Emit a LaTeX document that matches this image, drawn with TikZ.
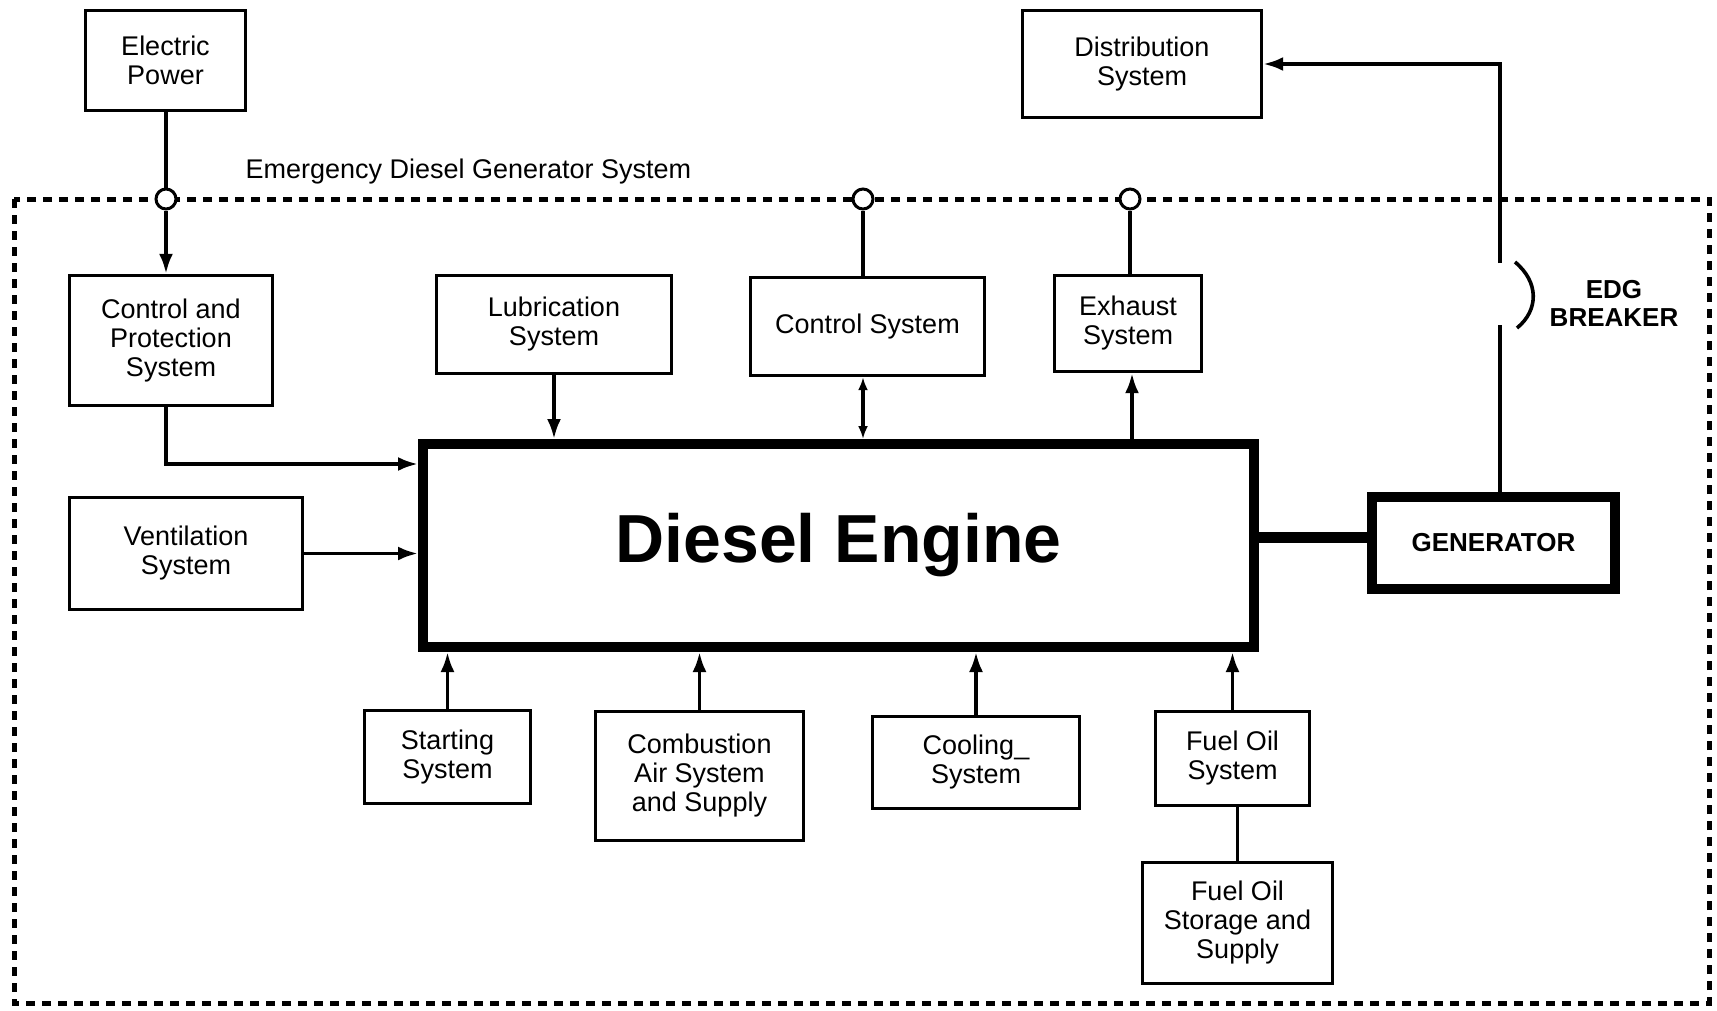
\documentclass[tikz,border=0pt]{standalone}
\usepackage{fontspec}
\setmainfont{Liberation Sans}
\usetikzlibrary{arrows.meta}

\tikzset{
	box/.style={draw,rectangle,line width=3.4pt,align=center,inner sep=0pt,font=\fontsize{27}{29}\selectfont},
	heavy/.style={draw,rectangle,line width=10pt,align=center,inner sep=0pt},
	port/.style={draw,circle,fill=white,line width=3pt,minimum size=20pt,inner sep=0pt},
	wire/.style={line width=3.6pt},
	flow/.style={wire,-{Latex[length=20pt,width=14pt]}},
	both/.style={wire,{Latex[length=13pt,width=10pt]}-{Latex[length=13pt,width=10pt]}},
	border/.style={line width=5pt,dash pattern=on 9pt off 7pt},
}

\begin{document}
\begin{tikzpicture}[x=1pt,y=-1pt]
		\useasboundingbox (0,0) rectangle (1717,1010);
		
		% system boundary
		\draw[border] (14,199) rectangle (1709,1003);
		\node[anchor=base west,font=\fontsize{27}{29}\selectfont] (title) at (242,178) {Emergency Diesel Generator System};
		
		\node[port] (c1) at (166,199) {};
		\node[port] (c2) at (863,199) {};
		\node[port] (c3) at (1130,199) {};
		
		% outside
		\node[box,minimum width=160,minimum height=100] (elec) at (165.5,60.5) {Electric\\Power};
		\node[box,minimum width=239,minimum height=107] (dist) at (1142,64) {Distribution\\System};
		
		% top row
		\node[box,minimum width=203,minimum height=130] (ctrlprot) at (171,340.5) {Control and\\Protection\\System};
		\node[box,minimum width=235,minimum height=98] (lube) at (554,324.5) {Lubrication\\System};
		\node[box,minimum width=234,minimum height=98] (ctrlsys) at (867.5,326.5) {Control System};
		\node[box,minimum width=147,minimum height=96] (exhaust) at (1128,323.5) {Exhaust\\System};
		
		% middle
		\node[box,minimum width=233,minimum height=112] (vent) at (186,553.5) {Ventilation\\System};
		\node[heavy,minimum width=831,minimum height=203,font=\fontsize{68}{70}\selectfont\bfseries] (engine) at (838.5,545.5) {Diesel Engine};
		\node[heavy,minimum width=243,minimum height=92,font=\fontsize{26}{28}\selectfont\bfseries] (gen) at (1493.5,543) {GENERATOR};
		
		% bottom row
		\node[box,minimum width=166,minimum height=93] (start) at (447.5,757) {Starting\\System};
		\node[box,minimum width=208,minimum height=129] (comb) at (699.5,776) {Combustion\\Air System\\and Supply};
		\node[box,minimum width=207,minimum height=92] (cool) at (976,762.5) {Cooling\_\\System};
		\node[box,minimum width=154,minimum height=94] (fuel) at (1232.5,758.5) {Fuel Oil\\System};
		\node[box,minimum width=190,minimum height=121] (store) at (1237.5,923) {Fuel Oil\\Storage and\\Supply};
		
		% breaker
		\coordinate (brkbot) at (1500,325);
		\coordinate (brktop) at (1500,263);
		\node[align=center,font=\fontsize{26}{28}\selectfont\bfseries] (brk) at (1614,303) {EDG\\BREAKER};
		\draw[wire] (1515,262) .. controls (1539,282) and (1539,310) .. (1517,328);
		
		% connectors
		\draw[wire] (elec.south -| c1) -- (c1.north);
		\draw[flow] (c1.south) -- (c1 |- ctrlprot.north);
		\draw[flow] (ctrlprot.south -| c1) |- ([yshift=81.5pt]engine.west);
		\draw[flow] (vent.east) -- (vent.east -| engine.west);
		\draw[flow] (lube.south) -- (lube.south |- engine.north);
		\draw[wire] (c2 |- ctrlsys.north) -- (c2.south);
		\draw[both] (c2 |- ctrlsys.south) -- (c2 |- engine.north);
		\draw[wire] (c3 |- exhaust.north) -- (c3.south);
		\draw[flow] ([xshift=4pt]exhaust.south |- engine.north) -- ([xshift=4pt]exhaust.south);
		\draw[flow] (start.north) -- (start.north |- engine.south);
		\draw[flow] (comb.north) -- (comb.north |- engine.south);
		\draw[flow] (cool.north) -- (cool.north |- engine.south);
		\draw[flow] (fuel.north) -- (fuel.north |- engine.south);
		\draw[wire] (store.north) -- (store.north |- fuel.south);
		\draw[line width=11pt] ([yshift=5.5pt]engine.east |- gen.west) -- ([yshift=5.5pt]gen.west);
		\draw[wire] (brkbot |- gen.north) -- (brkbot);
		\draw[flow] (brktop) |- (dist.east);
	\end{tikzpicture}
\end{document}
